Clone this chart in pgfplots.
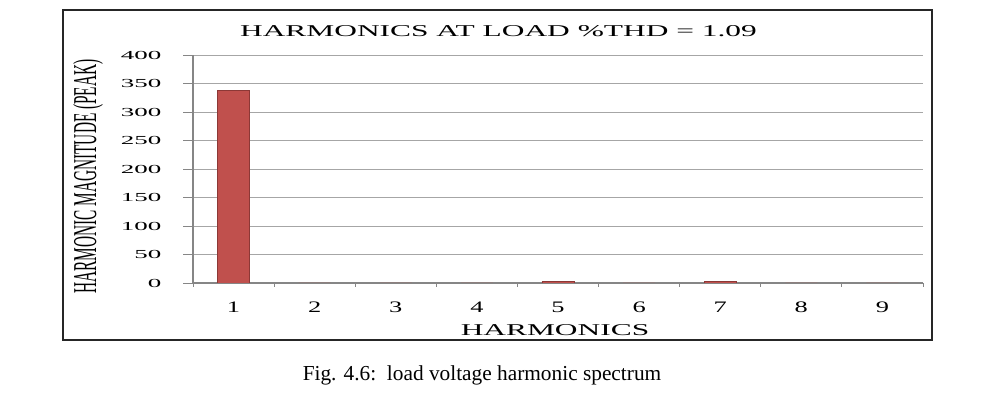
\documentclass[border=0pt]{standalone}
\usepackage{fontspec}
\setmainfont{Liberation Serif}
\newfontfamily\wideA[FakeStretch=1.9]{Liberation Serif}
\newfontfamily\wideC[FakeStretch=1.65]{Liberation Serif}
\newfontfamily\wideB[FakeStretch=2.2]{Liberation Serif}
\newfontfamily\narrowf[FakeStretch=0.46]{Liberation Serif}
\usepackage{pgfplots}
\pgfplotsset{compat=1.18}
\definecolor{barred}{HTML}{C0504D}
\definecolor{baredge}{HTML}{8C3836}
\definecolor{axgray}{HTML}{868686}
\definecolor{gridgray}{HTML}{A6A6A6}
\begin{document}
\begin{tikzpicture}
\path[use as bounding box] (0,0) rectangle (752.25pt,307.5pt);
\fill[white] (0,0) rectangle (752.25pt,307.5pt);
\draw[line width=1.2pt, color=black!85] (47.25pt,52.5pt) rectangle (699pt,300pt);
\begin{axis}[
  at={(144.75pt,95.25pt)}, anchor=south west,
  scale only axis, width=547.5pt, height=171pt,
  xmin=0.5, xmax=9.5, ymin=0, ymax=400,
  xtick={1,...,9}, ytick={0,50,...,400},
  minor xtick={0.5,1.5,...,9.5},
  axis x line*=bottom, axis y line*=left,
  axis line style={-, draw=axgray, line width=0.8pt},
  tick align=outside,
  major tick length=7.5pt, minor tick length=3pt,
  major x tick style={draw=none},
  minor x tick style={draw=axgray, line width=0.7pt},
  major y tick style={draw=axgray, line width=0.7pt},
  ymajorgrids, grid style={draw=gridgray, line width=0.6pt},
  /pgf/number format/assume math mode=true,
  yticklabel style={font=\wideB\fontsize{9.2}{10}\selectfont, anchor=east, xshift=-12.75pt},
  xticklabel style={font=\wideC\fontsize{12}{14}\selectfont, anchor=base, yshift=-15pt},
  ybar, bar width=24pt,
]
\addplot[fill=barred, draw=baredge, line width=0.5pt] coordinates {
  (1,338) (2,0) (3,0) (4,0) (5,2.5) (6,0) (7,3.0) (8,0) (9,0)
};
\end{axis}
\node[anchor=base] at (373.9pt,279.75pt) {\wideA\fontsize{12.4}{14}\selectfont HARMONICS AT LOAD \%THD = 1.09};
\node[anchor=base] at (416.25pt,55.5pt) {\wideA\fontsize{12.4}{14}\selectfont HARMONICS};
\node[rotate=90] at (66pt,175.1pt) {\narrowf\fontsize{25}{28}\selectfont HARMONIC MAGNITUDE (PEAK)};
\node[anchor=base] at (361.5pt,21.75pt) {\fontsize{16}{18}\selectfont Fig. 4.6:\ \ load voltage harmonic spectrum};
\end{tikzpicture}
\end{document}
